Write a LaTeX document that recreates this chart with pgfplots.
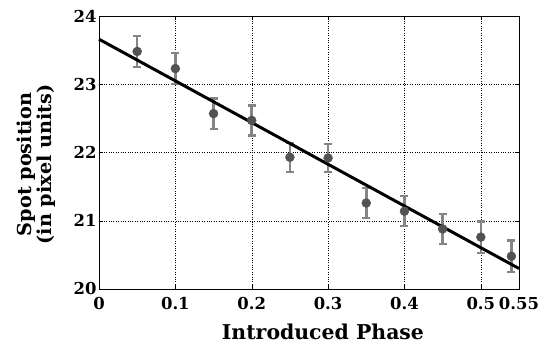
\documentclass[border=0pt]{standalone}
\usepackage{pgfplots}
\pgfplotsset{compat=1.18}
\usepackage{fontspec}
\setmainfont{DejaVu Serif}
\newcommand\tickfont{\fontsize{16.5}{18}\selectfont\bfseries}
\newcommand\labfont{\fontsize{20.5}{19}\selectfont\bfseries}
\newcommand\ylabfont{\fontsize{19.3}{19.5}\selectfont\bfseries}
\begin{document}
\begin{tikzpicture}
\useasboundingbox (-99bp,-67bp) rectangle (442bp,289bp);
\begin{axis}[
  at={(0,0)}, anchor=south west,
  scale only axis, width=420bp, height=273bp,
  xmin=0, xmax=0.55, ymin=20, ymax=24,
  xtick={0,0.1,0.2,0.3,0.4,0.5,0.55},
  xticklabels={0,0.1,0.2,0.3,0.4,0.5,0.55},
  ytick={20,21,22,23,24},
  /pgf/number format/assume math mode=true,
  ticklabel style={font=\tickfont},
  tick align=inside, tick style={black, thin},
  major tick length=4pt,
  grid=major, major grid style={black, dotted, thin},
  axis line style={black, thin},
  xlabel={Introduced Phase},
  xlabel style={font=\labfont, yshift=-7pt, xshift=14pt},
  ylabel={Spot position\\(in pixel units)},
  ylabel style={font=\ylabfont, align=center, yshift=11.5pt, xshift=-12pt},
  xticklabel style={yshift=-5pt, inner xsep=0pt},
  yticklabel style={xshift=1pt},
  clip=false,
]
\addplot[only marks, mark=*, mark size=4.5pt, mark options={fill=black!68, draw=black!68},
  error bars/.cd, y dir=both, y explicit,
  error bar style={line width=2.6pt, black!48},
  error mark options={rotate=90, line width=2.2pt, black!48, mark size=4pt}]
  table[x=x, y=y, y error=e] {
  x y e
  0.05 23.48 0.23
  0.10 23.23 0.23
  0.15 22.57 0.22
  0.20 22.47 0.22
  0.25 21.93 0.21
  0.30 21.92 0.20
  0.35 21.26 0.22
  0.40 21.14 0.22
  0.45 20.88 0.22
  0.50 20.76 0.23
  0.54 20.48 0.23
  };
\addplot[black, line width=3pt] coordinates {(0,23.66) (0.55,20.30)};
\end{axis}
\end{tikzpicture}
\end{document}
